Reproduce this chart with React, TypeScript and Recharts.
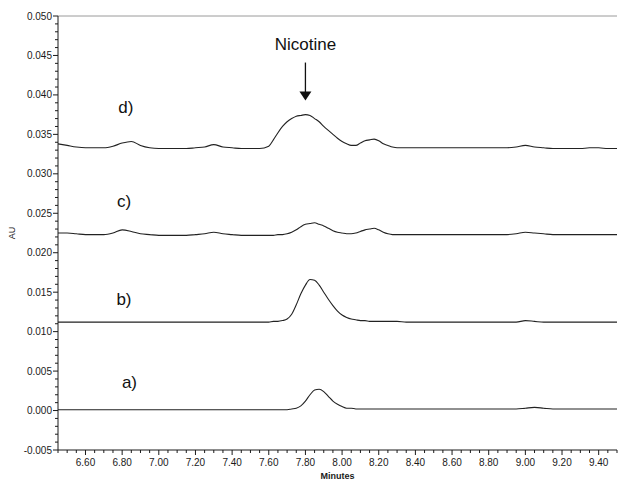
import React from "react";
import {
  LineChart,
  Line,
  XAxis,
  YAxis,
  ReferenceLine,
  ReferenceDot,
} from "recharts";

// retention time (minutes)
const minutes = [
  6.45, 6.5, 6.55, 6.6, 6.65, 6.7, 6.75, 6.8, 6.85, 6.9, 6.95, 7.0, 7.05, 7.1,
  7.15, 7.2, 7.25, 7.3, 7.35, 7.4, 7.45, 7.5, 7.55, 7.6, 7.625, 7.65, 7.675,
  7.7, 7.725, 7.75, 7.775, 7.8, 7.825, 7.85, 7.875, 7.9, 7.925, 7.95, 7.975,
  8.0, 8.025, 8.05, 8.075, 8.1, 8.125, 8.15, 8.175, 8.2, 8.225, 8.25, 8.275,
  8.3, 8.35, 8.4, 8.45, 8.5, 8.55, 8.6, 8.65, 8.7, 8.75, 8.8, 8.85, 8.9, 8.95,
  9.0, 9.05, 9.1, 9.15, 9.2, 9.25, 9.3, 9.35, 9.4, 9.45, 9.5,
];

const traceA = [
  0.0001, 0.0001, 0.0001, 0.0001, 0.0001, 0.0001, 0.0001, 0.0001, 0.0001,
  0.0001, 0.0001, 0.0001, 0.0001, 0.0001, 0.0001, 0.0001, 0.0001, 0.0001,
  0.0001, 0.0001, 0.0001, 0.0001, 0.0001, 0.0001, 0.0001, 0.0001, 0.0001,
  0.0001, 0.0002, 0.0003, 0.0006, 0.0012, 0.002, 0.0026, 0.0027, 0.0024,
  0.0018, 0.0012, 0.0008, 0.0005, 0.0003, 0.0003, 0.0002, 0.0002, 0.0002,
  0.0002, 0.0002, 0.0002, 0.0002, 0.0002, 0.0002, 0.0002, 0.0002, 0.0002,
  0.0002, 0.0002, 0.0002, 0.0002, 0.0002, 0.0002, 0.0002, 0.0002, 0.0002,
  0.0002, 0.0002, 0.0003, 0.0004, 0.0003, 0.0002, 0.0002, 0.0002, 0.0002,
  0.0002, 0.0002, 0.0002, 0.0002,
];

const traceB = [
  0.0112, 0.0112, 0.0112, 0.0112, 0.0112, 0.0112, 0.0112, 0.0112, 0.0112,
  0.0112, 0.0112, 0.0112, 0.0112, 0.0112, 0.0112, 0.0112, 0.0112, 0.0112,
  0.0112, 0.0112, 0.0112, 0.0112, 0.0112, 0.0112, 0.0113, 0.0113, 0.0114,
  0.0116, 0.0122, 0.0134, 0.0148, 0.0159, 0.0166, 0.0165, 0.0159, 0.015,
  0.0141, 0.0133, 0.0126, 0.0121, 0.0118, 0.0116, 0.0115, 0.0114, 0.0114,
  0.0113, 0.0113, 0.0113, 0.0113, 0.0113, 0.0113, 0.0113, 0.0112, 0.0112,
  0.0112, 0.0112, 0.0112, 0.0112, 0.0112, 0.0112, 0.0112, 0.0112, 0.0112,
  0.0112, 0.0112, 0.0114, 0.0113, 0.0112, 0.0112, 0.0112, 0.0112, 0.0112,
  0.0112, 0.0112, 0.0112, 0.0112,
];

const traceC = [
  0.0225, 0.0225, 0.0224, 0.0223, 0.0223, 0.0223, 0.0225, 0.0229, 0.0227,
  0.0224, 0.0223, 0.0222, 0.0222, 0.0222, 0.0222, 0.0223, 0.0224, 0.0226,
  0.0224, 0.0223, 0.0222, 0.0222, 0.0222, 0.0222, 0.0222, 0.0223, 0.0223,
  0.0224, 0.0226, 0.0229, 0.0233, 0.0236, 0.0237, 0.0238, 0.0236, 0.0234,
  0.0231, 0.0228, 0.0226, 0.0225, 0.0224, 0.0224, 0.0225, 0.0227, 0.0229,
  0.023, 0.0231, 0.0229, 0.0226, 0.0224, 0.0223, 0.0223, 0.0223, 0.0223,
  0.0223, 0.0223, 0.0223, 0.0223, 0.0223, 0.0223, 0.0223, 0.0223, 0.0223,
  0.0223, 0.0224, 0.0226, 0.0225, 0.0224, 0.0223, 0.0223, 0.0223, 0.0223,
  0.0223, 0.0223, 0.0223, 0.0223,
];

const traceD = [
  0.0338, 0.0336, 0.0334, 0.0333, 0.0333, 0.0333, 0.0335, 0.0339, 0.0341,
  0.0336, 0.0333, 0.0332, 0.0332, 0.0332, 0.0332, 0.0333, 0.0334, 0.0337,
  0.0334, 0.0333, 0.0332, 0.0332, 0.0332, 0.0335, 0.0343, 0.0352, 0.036,
  0.0366, 0.037, 0.0373, 0.0374, 0.0375, 0.0374, 0.037, 0.0366, 0.036, 0.0355,
  0.035, 0.0345, 0.0341, 0.0338, 0.0336, 0.0336, 0.0339, 0.0342, 0.0343,
  0.0344, 0.0342, 0.0338, 0.0336, 0.0334, 0.0333, 0.0333, 0.0333, 0.0333,
  0.0333, 0.0333, 0.0333, 0.0333, 0.0333, 0.0333, 0.0333, 0.0333, 0.0333,
  0.0334, 0.0336, 0.0334, 0.0333, 0.0332, 0.0332, 0.0332, 0.0332, 0.0333,
  0.0333, 0.0332, 0.0332,
];

const traceLabels = [
  { name: "a)", x: 6.84, y: 0.0036 },
  { name: "b)", x: 6.81, y: 0.0141 },
  { name: "c)", x: 6.81, y: 0.0265 },
  { name: "d)", x: 6.82, y: 0.0384 },
];

const xMajorTicks = [6.6, 6.8, 7.0, 7.2, 7.4, 7.6, 7.8, 8.0, 8.2, 8.4, 8.6, 8.8, 9.0, 9.2, 9.4];
const yMajorTicks = [-0.005, 0, 0.005, 0.01, 0.015, 0.02, 0.025, 0.03, 0.035, 0.04, 0.045, 0.05];

const xTicks: number[] = [];
for (let i = 0; i <= 61; i++) xTicks.push(Math.round((6.45 + i * 0.05) * 1000) / 1000);
const yTicks: number[] = [];
for (let i = 0; i <= 55; i++) yTicks.push(Math.round((-0.005 + i * 0.001) * 10000) / 10000);

const data = minutes.map((m, i) => ({
  m,
  a: traceA[i],
  b: traceB[i],
  c: traceC[i],
  d: traceD[i],
}));

const FONT = "'Liberation Sans', Arial, sans-serif";
const INK = "#1a1a1a";

const isMajor = (v: number, list: number[]) => list.some((t) => Math.abs(t - v) < 1e-7);

function XTick(props: any) {
  const { x, y, payload } = props;
  const axisY = y - 8;
  const major = isMajor(payload.value, xMajorTicks);
  return (
    <g>
      <line x1={x} x2={x} y1={axisY} y2={axisY + (major ? 5 : 3)} stroke={INK} />
      {major && (
        <text x={x} y={y} dy="0.75em" textAnchor="middle" fontSize={10} fontFamily={FONT} fill={INK}>
          {payload.value.toFixed(2)}
        </text>
      )}
    </g>
  );
}

function YTick(props: any) {
  const { x, y, payload } = props;
  const axisX = x + 7;
  const major = isMajor(payload.value, yMajorTicks);
  return (
    <g>
      <line x1={axisX} x2={axisX - (major ? 5 : 3)} y1={y} y2={y} stroke={INK} />
      {major && (
        <text x={axisX - 6} y={y} dy="0.35em" textAnchor="end" fontSize={10} fontFamily={FONT} fill={INK}>
          {payload.value.toFixed(3)}
        </text>
      )}
    </g>
  );
}

const series = ["a", "b", "c", "d"];

export default function App() {
  return (
    <div style={{ position: "absolute", left: 0, top: 0, background: "#fff" }}>
      <LineChart
        width={618}
        height={479}
        data={data}
        margin={{ top: 16, right: 1, bottom: 0, left: 0 }}
      >
        <XAxis
          dataKey="m"
          type="number"
          domain={[6.45, 9.5]}
          ticks={xTicks}
          interval={0}
          tick={<XTick />}
          tickLine={false}
          tickSize={5}
          tickMargin={3}
          height={29}
          stroke={INK}
          allowDataOverflow
          label={{
            content: (p: any) => (
              <text
                x={p.viewBox.x + p.viewBox.width / 2}
                y={p.viewBox.y + 28.5}
                textAnchor="middle"
                fontSize={9}
                fontWeight="bold"
                fontFamily={FONT}
                fill={INK}
              >
                Minutes
              </text>
            ),
          }}
        />
        <YAxis
          type="number"
          domain={[-0.005, 0.05]}
          ticks={yTicks}
          interval={0}
          tick={<YTick />}
          tickLine={false}
          tickSize={5}
          tickMargin={2}
          width={58}
          stroke={INK}
          allowDataOverflow
          label={{
            content: (p: any) => (
              <text
                x={12}
                y={p.viewBox.y + p.viewBox.height / 2}
                transform={`rotate(-90 12 ${p.viewBox.y + p.viewBox.height / 2})`}
                textAnchor="middle"
                dominantBaseline="central"
                fontSize={9}
                fontFamily={FONT}
                fill={INK}
              >
                AU
              </text>
            ),
          }}
        />
        <ReferenceLine y={0.05} stroke="#9a9a9a" />
        {series.map((k) => (
          <Line
            key={k}
            dataKey={k}
            type="monotone"
            stroke="#222"
            strokeWidth={1.1}
            dot={false}
            isAnimationActive={false}
          />
        ))}
        {traceLabels.map((l) => (
          <ReferenceDot
            key={l.name}
            x={l.x}
            y={l.y}
            r={0}
            shape={(p: any) => (
              <text x={p.cx} y={p.cy} dy="0.35em" textAnchor="middle" fontSize={17} fontFamily={FONT} fill="#111">
                {l.name}
              </text>
            )}
          />
        ))}
        <ReferenceDot
          x={7.8}
          y={0.0464}
          r={0}
          shape={(p: any) => (
            <text x={p.cx} y={p.cy} dy="0.35em" textAnchor="middle" fontSize={17} fontFamily={FONT} fill="#111">
              Nicotine
            </text>
          )}
        />
        <ReferenceLine
          segment={[
            { x: 7.8, y: 0.0441 },
            { x: 7.8, y: 0.0402 },
          ]}
          stroke="#111"
          strokeWidth={1.3}
        />
        <ReferenceDot
          x={7.8}
          y={0.0393}
          r={0}
          shape={(p: any) => (
            <path d={`M${p.cx},${p.cy} L${p.cx - 6},${p.cy - 9} L${p.cx + 6},${p.cy - 9} Z`} fill="#111" />
          )}
        />
      </LineChart>
    </div>
  );
}
